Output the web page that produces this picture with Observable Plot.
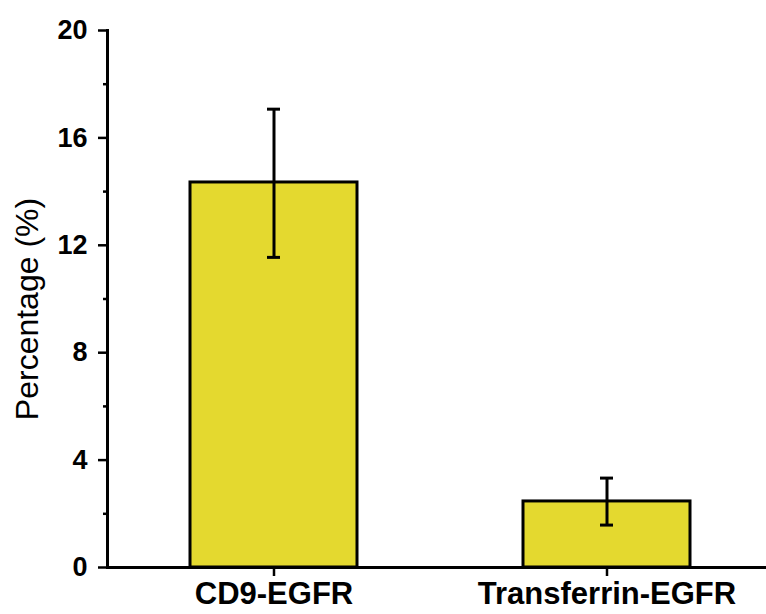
<!DOCTYPE html>
<html>
<head>
<meta charset="utf-8">
<script src="https://cdn.jsdelivr.net/npm/d3@7"></script>
<script src="https://cdn.jsdelivr.net/npm/@observablehq/plot@0.6"></script>
<style>
  html, body { margin: 0; padding: 0; background: #fff; }
  #chart svg { display: block; }
</style>
</head>
<body>
<div id="chart"></div>
<script>
const categories = ["CD9-EGFR", "Transferrin-EGFR"];
const values = [14.34, 2.46];
const errLow = [11.55, 1.58];
const errHigh = [17.07, 3.33];
const majorTicks = [0, 4, 8, 12, 16, 20];
const minorTicks = [2, 6, 10, 14, 18];

const data = categories.map((c, i) => ({cat: c, v: values[i], lo: errLow[i], hi: errHigh[i]}));

const W = 766, H = 614, ML = 107, MT = 30, MB = 47;
const font = "Liberation Sans, Arial, sans-serif";

const chart = Plot.plot({
  width: W,
  height: H,
  marginLeft: ML,
  marginRight: 0,
  marginTop: MT,
  marginBottom: MB,
  style: {fontFamily: font, background: "#fff", overflow: "visible"},
  x: {type: "band", domain: categories, range: [ML, 773], paddingInner: 0.5, paddingOuter: 0.25, axis: null},
  y: {domain: [0, 20], axis: null},
  marks: [
    Plot.barY(data, {x: "cat", y: "v", fill: "#e4d92f", stroke: "#000", strokeWidth: 3}),
    Plot.ruleX(data, {x: "cat", y1: "lo", y2: "hi", stroke: "#000", strokeWidth: 3}),
    Plot.tickY(data, {x: "cat", y: "lo", stroke: "#000", strokeWidth: 3, insetLeft: 77, insetRight: 77}),
    Plot.tickY(data, {x: "cat", y: "hi", stroke: "#000", strokeWidth: 3, insetLeft: 77, insetRight: 77}),
    Plot.axisY({ticks: minorTicks, tickSize: 4, tickFormat: null, text: null, label: null, stroke: "#000", strokeWidth: 2.5}),
    Plot.axisY({ticks: majorTicks, tickSize: 9, tickPadding: 11, label: null, stroke: "#000", strokeWidth: 2.5,
      fontSize: 27, fontWeight: "bold", fill: "#000"}),
    Plot.axisX({tickSize: 9, tickPadding: 5, label: null, stroke: "#000", strokeWidth: 2.5,
      fontSize: 31, fontWeight: "bold", fill: "#000"}),
    Plot.frame({anchor: "left", stroke: "#000", strokeWidth: 3}),
    Plot.ruleY([0], {stroke: "#000", strokeWidth: 3}),
    Plot.text(["Percentage (%)"], {frameAnchor: "left", dx: -80, dy: 10, rotate: -90, fontSize: 32, fill: "#000", textAnchor: "middle"})
  ]
});
document.getElementById("chart").appendChild(chart);
</script>
</body>
</html>
